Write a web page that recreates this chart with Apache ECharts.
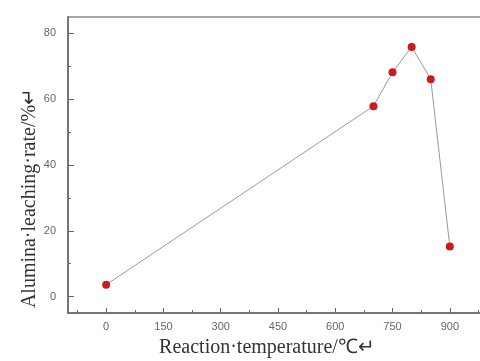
<!DOCTYPE html>
<html>
<head>
<meta charset="utf-8">
<script src="https://cdn.jsdelivr.net/npm/echarts@6/dist/echarts.min.js"></script>
<style>
  html, body { margin: 0; padding: 0; background: #fff; }
  #chart { width: 480px; height: 361px; }
</style>
</head>
<body>
<div id="chart"></div>
<script>
// data
const temperatures = [0, 700, 750, 800, 850, 900];
const leachingRates = [3.6, 57.9, 68.2, 75.9, 66.1, 15.2];
const xMajorTicks = [0, 150, 300, 450, 600, 750, 900];
const xMinorTicks = [-75, 75, 225, 375, 525, 675, 825, 975];
const yMajorTicks = [0, 20, 40, 60, 80];
const yMinorTicks = [10, 30, 50, 70];

const chart = echarts.init(document.getElementById('chart'));

const axisColor = '#666';
const labelStyle = { color: '#666', fontFamily: 'Arial, sans-serif', fontSize: 11 };
const titleStyle = { color: '#333', fontFamily: '"Liberation Serif", serif', fontSize: 20 };

chart.setOption({
  animation: false,
  backgroundColor: '#fff',
  grid: {
    left: 68, top: 17, width: 420, height: 296,
    outerBoundsMode: 'none',
    show: true, borderColor: '#888', borderWidth: 1.5
  },
  xAxis: [{
    type: 'value', min: -100, max: 1000,
    name: 'Reaction·temperature/℃↵',
    nameLocation: 'middle', nameGap: 25,
    nameTextStyle: Object.assign({}, titleStyle, { padding: [0, 22, 0, 0] }),
    axisLine: { onZero: false, lineStyle: { color: axisColor, width: 1.5 } },
    axisTick: { inside: true, length: 5, customValues: xMajorTicks, lineStyle: { color: axisColor } },
    axisLabel: Object.assign({ customValues: xMajorTicks, margin: 8 }, labelStyle),
    splitLine: { show: false }
  }, {
    type: 'value', min: -100, max: 1000, position: 'bottom',
    axisLine: { show: false, onZero: false },
    axisTick: { inside: true, length: 3, customValues: xMinorTicks, lineStyle: { color: axisColor } },
    axisLabel: { show: false },
    splitLine: { show: false }
  }],
  yAxis: [{
    type: 'value', min: -5, max: 85,
    name: 'Alumina·leaching·rate/%↵',
    nameLocation: 'middle', nameGap: 28, nameMoveOverlap: false,
    nameTextStyle: Object.assign({}, titleStyle, { padding: [0, 66, 0, 0] }),
    axisLine: { onZero: false, lineStyle: { color: axisColor, width: 1.5 } },
    axisTick: { inside: true, length: 6, customValues: yMajorTicks, lineStyle: { color: axisColor } },
    axisLabel: Object.assign({ customValues: yMajorTicks, margin: 12 }, labelStyle),
    splitLine: { show: false }
  }, {
    type: 'value', min: -5, max: 85, position: 'left',
    axisLine: { show: false, onZero: false },
    axisTick: { inside: true, length: 3, customValues: yMinorTicks, lineStyle: { color: axisColor } },
    axisLabel: { show: false },
    splitLine: { show: false }
  }],
  series: [{
    type: 'line',
    xAxisIndex: 0, yAxisIndex: 0,
    data: temperatures.map((t, i) => [t, leachingRates[i]]),
    symbol: 'circle', symbolSize: 8,
    lineStyle: { color: '#9a9a9a', width: 1 },
    itemStyle: { color: '#cc1a1a' }
  }]
});
</script>
</body>
</html>
